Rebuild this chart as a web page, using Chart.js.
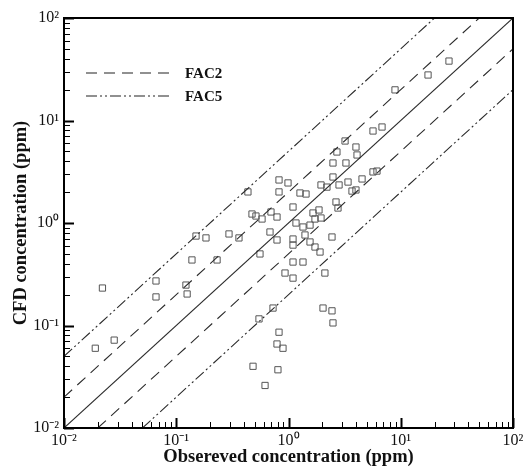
<!DOCTYPE html>
<html><head><meta charset="utf-8">
<script src="https://cdn.jsdelivr.net/npm/chart.js@4.4.1/dist/chart.umd.min.js"></script>
<style>html,body{margin:0;padding:0;background:#fff;}</style>
</head><body>
<canvas id="c" width="527" height="468"></canvas>
<script>
// ---- data ----
const observed = [0.019,0.028,0.022,0.066,0.066,0.122,0.125,0.138,0.150,0.184,
  0.231,0.295,0.362,0.435,0.557,0.684,0.790,0.473,0.513,0.581,
  0.698,0.790,0.823,0.990,0.823,1.097,1.266,1.432,1.097,1.097,
  1.403,1.555,1.722,1.909,2.44,1.166,1.346,1.555,1.653,1.869,
  1.722,1.948,2.65,2.76,1.948,2.20,2.82,3.39,3.68,3.99,
  2.49,4.52,5.66,6.14,2.49,3.25,2.70,3.99,4.08,3.19,
  5.66,6.81,8.89,17.5,26.9,1.097,1.346,0.931,1.097,2.11,
  0.728,0.546,2.03,2.44,2.49,0.823,0.790,0.893,0.483,0.805,0.618];
const cfd = [0.060,0.072,0.232,0.272,0.190,0.248,0.203,0.436,0.746,0.715,
  0.436,0.782,0.715,2.01,0.499,0.817,0.683,1.224,1.170,1.094,
  1.281,1.144,2.63,2.46,2.01,1.432,1.962,1.918,0.698,0.609,
  0.764,0.653,0.583,0.521,0.730,1.00,0.914,0.954,1.252,1.340,
  1.094,1.119,1.603,1.400,2.35,2.24,2.35,2.51,2.05,2.10,
  2.81,2.69,3.15,3.21,3.85,3.85,4.93,5.51,4.61,6.31,
  7.90,8.64,19.9,27.8,38.0,0.416,0.416,0.325,0.290,0.325,
  0.148,0.116,0.148,0.139,0.106,0.086,0.066,0.060,0.040,0.037,0.026];
const oneToOneX = [0.01, 100], oneToOneY = [0.01, 100];
const fac2UpperX = [0.01, 50], fac2UpperY = [0.02, 100];
const fac2LowerX = [0.02, 100], fac2LowerY = [0.01, 50];
const fac5UpperX = [0.01, 20], fac5UpperY = [0.05, 100];
const fac5LowerX = [0.05, 100], fac5LowerY = [0.01, 20];
const tickValues = [0.01, 0.1, 1, 10, 100];
const tickLabels = ['10\u207B\u00B2','10\u207B\u00B9','10\u2070','10\u00B9','10\u00B2'];
const legendLabels = ['FAC2', 'FAC5'];
const xTitle = 'Obsereved concentration (ppm)';
const yTitle = 'CFD concentration (ppm)';

// ---- styling ----
const SERIF = '"Liberation Serif","Times New Roman",serif';
const DASH2 = [11, 7];
const DASH5 = [11, 3, 2, 3, 2, 3];
const pts = (xs, ys) => xs.map((x, i) => ({x: x, y: ys[i]}));
function lineDs(xs, ys, dash) {
  return {type: 'line', data: pts(xs, ys), borderColor: '#2a2a2a', borderWidth: 1.1,
    borderDash: dash, pointRadius: 0, fill: false, showLine: true, tension: 0};
}

const frameTicks = {
  id: 'frameTicks',
  afterDatasetsDraw(chart) {
    const {ctx, chartArea: a, scales: {x, y}} = chart;
    ctx.save();
    ctx.strokeStyle = '#000';
    ctx.setLineDash([]);
    for (let k = -2; k <= 2; k++) {
      for (let m = 1; m <= 9; m++) {
        const v = m * Math.pow(10, k);
        if (v > 100.0001) break;
        const major = m === 1;
        const len = major ? 10 : 6;
        ctx.lineWidth = major ? 2 : 1;
        const px = Math.round(x.getPixelForValue(v)) + 0.5;
        const py = Math.round(y.getPixelForValue(v)) + 0.5;
        ctx.beginPath();
        ctx.moveTo(px, a.bottom); ctx.lineTo(px, a.bottom - len);
        ctx.moveTo(a.left, py); ctx.lineTo(a.left + len, py);
        ctx.stroke();
      }
    }
    ctx.lineWidth = 2;
    ctx.strokeRect(a.left, a.top, a.right - a.left, a.bottom - a.top);
    // legend
    const rows = [{dash: DASH2, y: 73}, {dash: DASH5, y: 96}];
    rows.forEach((r, i) => {
      ctx.lineWidth = 1.2;
      ctx.strokeStyle = '#222';
      ctx.setLineDash(r.dash);
      ctx.beginPath(); ctx.moveTo(86, r.y); ctx.lineTo(171, r.y); ctx.stroke();
      ctx.setLineDash([]);
      ctx.fillStyle = '#111';
      ctx.font = 'bold 15px ' + SERIF;
      ctx.textBaseline = 'middle';
      ctx.textAlign = 'left';
      ctx.fillText(legendLabels[i], 185, r.y + 1);
    });
    ctx.restore();
  }
};

new Chart(document.getElementById('c'), {
  type: 'scatter',
  data: {
    datasets: [
      lineDs(oneToOneX, oneToOneY, []),
      lineDs(fac2UpperX, fac2UpperY, DASH2),
      lineDs(fac2LowerX, fac2LowerY, DASH2),
      lineDs(fac5UpperX, fac5UpperY, DASH5),
      lineDs(fac5LowerX, fac5LowerY, DASH5),
      {type: 'scatter', data: pts(observed, cfd), pointStyle: 'rect', pointRadius: 4.4,
        borderColor: '#555', borderWidth: 1, backgroundColor: 'rgba(0,0,0,0)'}
    ]
  },
  options: {
    responsive: false, animation: false, devicePixelRatio: 1,
    layout: {padding: {top: 18, right: 14, left: 0, bottom: 0}},
    plugins: {legend: {display: false}, tooltip: {enabled: false}},
    scales: {
      x: {
        type: 'logarithmic', min: 0.01, max: 100,
        afterBuildTicks: s => { s.ticks = tickValues.map(v => ({value: v, major: true})); },
        afterFit: s => { s.height = 40; },
        grid: {display: false, drawTicks: false},
        border: {display: false},
        ticks: {callback: (v, i) => tickLabels[i], padding: 3, maxRotation: 0, autoSkip: false,
          color: '#111', font: {family: SERIF, size: 16}},
        title: {display: true, text: xTitle, color: '#111', padding: {top: 0, bottom: 0},
          font: {family: SERIF, size: 18.5, weight: 'bold'}}
      },
      y: {
        type: 'logarithmic', min: 0.01, max: 100,
        afterBuildTicks: s => { s.ticks = tickValues.map(v => ({value: v, major: true})); },
        afterFit: s => { s.width = 64; },
        grid: {display: false, drawTicks: false},
        border: {display: false},
        ticks: {callback: (v, i) => tickLabels[i], padding: 5, autoSkip: false,
          color: '#111', font: {family: SERIF, size: 16}},
        title: {display: true, text: yTitle, color: '#111', padding: {top: 10, bottom: 0},
          font: {family: SERIF, size: 18.5, weight: 'bold'}}
      }
    }
  },
  plugins: [frameTicks]
});
</script>
</body></html>
